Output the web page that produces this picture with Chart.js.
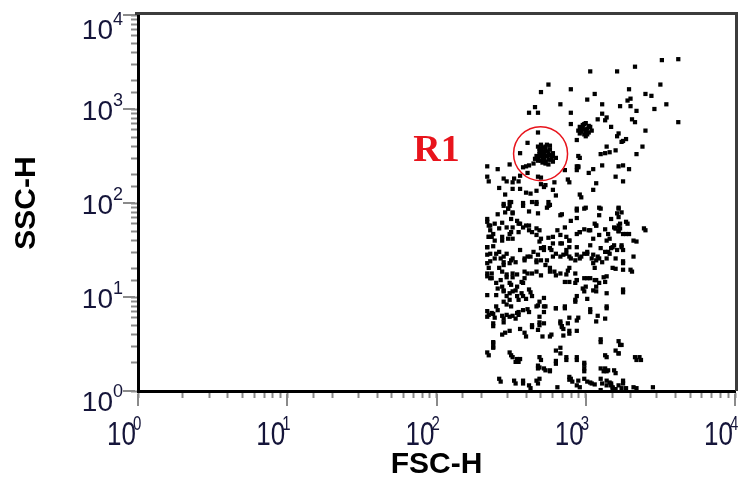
<!DOCTYPE html>
<html><head><meta charset="utf-8">
<script src="https://cdn.jsdelivr.net/npm/chart.js@4.4.1/dist/chart.umd.min.js"></script>
<style>html,body{margin:0;padding:0;background:#fff;}canvas{display:block;}</style>
</head><body>
<canvas id="c" width="741" height="486"></canvas>
<script>
// ---- chart text / axes ----
const X_TITLE = 'FSC-H';
const Y_TITLE = 'SSC-H';
const DECADES = [1, 10, 100, 1000, 10000];
const EXPONENTS = ['0', '1', '2', '3', '4'];
const GATE_NAME = 'R1';
const GATE_FSC = [498];
const GATE_SSC = [335];

// ---- events, each [log10 FSC-H, log10 SSC-H] ----
const upperTail = [
 [3.51,3.52],[3.62,3.53],[3.33,3.45],[3.03,3.40],[3.21,3.40],[2.75,3.26],[3.50,3.26],[2.70,3.18],[2.90,3.21],[3.06,3.16],
 [3.29,3.21],[3.01,3.10],[3.40,3.16],[3.44,3.14],[3.28,3.09],[3.30,3.11],[3.54,3.05],[2.83,3.05],[3.11,3.05],[3.23,3.03],
 [3.30,3.03],[2.66,3.02],[2.62,2.96],[2.68,2.96],[2.90,2.96],[3.34,2.98],[3.46,3.00],[3.62,2.86],[3.11,2.95],[3.14,2.91],
 [3.13,2.88],[3.08,2.89],[2.90,2.84],[3.31,2.89],[3.33,2.86],[3.17,2.81],[3.40,2.77],[3.22,2.74],[3.21,2.71],[3.27,2.68],
 [3.25,2.66],[3.24,2.65],[3.38,2.60],[3.14,2.60],[3.20,2.56],[3.16,2.54],[3.13,2.53],[3.10,2.52],[3.34,2.52]
];
const diagBlob = [
 [2.96,2.81],[2.98,2.83],[3.00,2.85],[3.03,2.81],[2.99,2.78],[2.97,2.76],[3.02,2.75],[2.99,2.73],[2.95,2.77],[3.04,2.77],
 [3.00,2.71],[2.94,2.67],[2.95,2.50],[2.94,2.39],[2.95,2.38],[2.96,2.48],
 [2.97,2.79],[3.01,2.79],[2.98,2.80],[3.00,2.76],[2.96,2.74],[3.02,2.82],[2.99,2.84],[3.01,2.73]
];
const r1Events = [
 [2.68,2.60],[2.70,2.62],[2.74,2.62],[2.76,2.61],[2.69,2.55],[2.72,2.55],[2.76,2.57],[2.78,2.53],[2.67,2.50],[2.70,2.50],
 [2.74,2.50],[2.77,2.48],[2.80,2.48],[2.68,2.45],[2.71,2.43],[2.75,2.41],[2.78,2.44],[2.65,2.42],[2.62,2.40],[2.60,2.39],
 [2.58,2.38],[2.71,2.59],[2.75,2.53],[2.71,2.47],[2.68,2.75],[2.61,2.64],[2.56,2.53],[2.72,2.52],[2.73,2.57],[2.69,2.58],
 [2.75,2.46],[2.70,2.45],[2.66,2.47],[2.78,2.50],[2.73,2.44],
 [2.69,2.52],[2.71,2.54],[2.73,2.60],[2.72,2.48],[2.74,2.55],[2.76,2.51],[2.68,2.48],[2.70,2.57],[2.77,2.46],[2.73,2.42]
];
const mainCloudUpper = [
 [2.34,2.39],[2.41,2.36],[2.49,2.41],[2.34,2.28],[2.35,2.23],[2.45,2.26],[2.47,2.23],[2.52,2.26],[2.51,2.22],[2.55,2.23],
 [2.56,2.29],[2.61,2.32],[2.68,2.28],[2.70,2.27],[2.70,2.20],[2.73,2.19],[2.79,2.22],[2.86,2.35],[2.88,2.25],[2.89,2.22],
 [2.94,2.35],[2.95,2.39],[3.02,2.32],[3.05,2.36],[3.07,2.21],[3.11,2.40],[3.20,2.28],[3.22,2.39],[3.25,2.40],[3.29,2.36],
 [3.25,2.23],[2.42,2.16],[2.46,2.09],[2.51,2.15],[2.56,2.15],[2.60,2.11],[2.63,2.10],[2.67,2.13],[2.72,2.17],[2.78,2.14],
 [2.80,2.08],[2.96,2.09],[2.97,2.06],[3.05,2.14],[3.00,1.95],[2.94,1.94],[3.09,1.95],[3.22,1.95],
 [2.45,1.99],[2.48,1.94],[2.50,2.01],[2.51,1.90],[2.46,1.90],[2.41,1.88],[2.58,2.00],[2.64,2.01],[2.67,2.01],[2.75,2.01],
 [2.76,1.98],[2.62,1.91],[2.68,1.89],[2.74,1.95],[2.84,1.88],[2.49,1.97]
];
const mainCloudMiddle = [
 [2.34,1.83],[2.35,1.76],[2.36,1.71],[2.39,1.78],[2.44,1.79],[2.42,1.73],[2.47,1.74],[2.50,1.83],[2.54,1.81],[2.56,1.78],
 [2.58,1.74],[2.60,1.76],[2.62,1.71],[2.67,1.73],[2.69,1.71],[2.50,1.69],[2.51,1.62],[2.44,1.64],[2.39,1.60],[2.35,1.64],
 [2.37,1.64],[2.55,1.69],[2.70,1.62],[2.75,1.63],[2.81,1.71],[2.78,1.64],[2.83,1.66],[2.87,1.64],[2.89,1.60],[2.86,1.74],
 [2.90,1.81],[2.94,1.84],[2.96,1.69],[2.99,1.72],[3.03,1.71],[3.06,1.78],[3.07,1.76],[3.05,1.62],[3.09,1.66],[3.13,1.72],
 [3.15,1.67],[3.14,1.60],[3.16,1.62],[3.20,1.73],[3.23,1.73],[3.22,1.76],[3.28,1.78],[3.29,1.67],[3.32,1.60],[3.34,1.59],
 [3.39,1.73],[3.09,1.87],[3.22,1.85],[3.27,1.80],[3.24,1.90],[3.19,1.74],[3.22,1.70],
 [2.34,1.53],[2.38,1.54],[2.42,1.48],[2.45,1.43],[2.47,1.46],[2.50,1.39],[2.51,1.41],[2.56,1.50],[2.59,1.41],[2.61,1.43],
 [2.65,1.48],[2.68,1.45],[2.70,1.52],[2.72,1.53],[2.76,1.52],[2.74,1.39],[2.67,1.39],[2.80,1.46],[2.85,1.45],[2.87,1.50],
 [2.89,1.53],[2.90,1.41],[2.94,1.45],[2.94,1.53],[2.97,1.43],[2.99,1.46],[3.01,1.48],[3.05,1.45],[3.07,1.39],[3.09,1.41],
 [3.10,1.52],[3.13,1.48],[3.15,1.48],[3.17,1.52],[3.19,1.55],[3.24,1.55],[3.25,1.50],[3.32,1.43],[2.36,1.38],[2.34,1.45],
 [2.39,1.41],[2.42,1.31],[2.35,1.31],[2.45,1.34],[3.03,1.55],[2.84,1.57],[2.78,1.57]
];
const mainCloudLower = [
 [2.34,1.22],[2.37,1.25],[2.44,1.27],[2.47,1.24],[2.51,1.25],[2.54,1.24],[2.57,1.16],[2.59,1.20],[2.61,1.25],[2.67,1.27],
 [2.76,1.31],[2.79,1.27],[2.80,1.23],[2.87,1.24],[2.89,1.31],[2.93,1.25],[2.94,1.18],[2.93,1.15],[2.99,1.20],[3.00,1.11],
 [3.03,1.20],[3.06,1.18],[3.07,1.11],[3.09,1.15],[3.13,1.16],[3.14,1.22],[3.18,1.31],[3.25,1.29],[3.30,1.29],[3.20,1.41],
 [3.25,1.38],[3.06,1.31],[2.89,1.16],[2.86,1.16],[2.36,1.20],[2.40,1.15],[2.44,1.11],[2.49,1.15],[2.54,1.11],[2.58,1.15],
 [2.34,1.02],[2.40,1.02],[2.45,1.06],[2.47,1.01],[2.49,1.04],[2.51,1.06],[2.54,1.01],[2.58,1.01],[2.62,1.08],[2.64,1.01],
 [2.72,0.99],[2.69,0.95],[2.67,0.90],[2.72,0.90],[2.80,0.88],[2.86,0.90],[2.94,1.01],[2.93,0.95],[3.14,1.04],[3.07,1.06],
 [2.99,1.06],[3.25,1.08],[2.40,0.90],[2.47,0.92],[2.50,0.90],[2.54,0.83],[2.58,0.86],[2.61,0.87],[2.34,0.85],[2.35,0.81],
 [2.37,0.83],[2.39,0.78],[2.44,0.80],[2.47,0.81],[2.51,0.80],[2.55,0.81],[3.03,0.87],[3.14,0.90],[3.08,0.80]
];
const mainCloudExtra = [
 [2.34,1.80],[2.36,1.76],[2.45,1.97],[2.48,1.94],[2.51,1.89],[2.49,2.01],[2.58,1.97],[2.67,1.99],[2.75,1.97],[2.83,1.87],
 [2.94,1.92],[2.99,1.94],[3.10,1.94],[3.22,1.94],[3.21,1.89],[3.17,1.83],[3.23,1.78],[3.20,1.73],[3.22,1.70],[3.25,1.67],
 [3.27,1.67],[3.40,1.71],[3.07,1.76],[3.02,1.71],[2.96,1.69],[2.94,1.67],[2.89,1.60],[2.83,1.57],[2.77,1.50],[2.72,1.50],
 [2.69,1.59],[2.67,1.66],[2.64,1.69],[2.62,1.76],[2.55,1.78],[2.51,1.74],[2.49,1.67],[2.48,1.62],[2.44,1.60],[2.38,1.67],
 [2.35,1.64],[2.34,1.53],[2.36,1.46],[2.40,1.46],[2.43,1.41],[2.45,1.37],[2.49,1.36],[2.53,1.37],[2.59,1.39],[2.63,1.43],
 [2.67,1.37],[2.70,1.39],[2.73,1.34],[2.78,1.43],[2.83,1.43],[2.87,1.46],[2.89,1.43],[2.93,1.39],[2.96,1.41],[3.01,1.46],
 [3.04,1.41],[3.05,1.36],[3.08,1.43],[3.11,1.37],[3.14,1.41],[3.16,1.46],[3.18,1.53],[3.21,1.50],[3.24,1.53],[3.25,1.36],
 [3.31,1.27],[3.20,1.30],[3.12,1.21],[3.07,1.18],[3.01,1.20],[2.98,1.09],[2.94,1.18],[2.88,1.28],[2.83,1.25],[2.76,1.27],
 [2.70,1.23],[2.64,1.25],[2.59,1.27],[2.51,1.21],[2.47,1.21],[2.43,1.18],[2.37,1.20],[2.34,1.25],[2.34,1.36],[2.41,1.09],
 [2.45,1.07],[2.50,1.13],[2.53,1.07],[2.57,1.04],[2.63,1.05],[2.60,0.98],[2.55,0.97],[2.49,0.97],[2.45,0.95],[2.41,0.86],
 [2.38,0.82],[2.34,0.79],[2.38,0.72],[2.45,0.77],[2.49,0.79],[2.53,0.77],[2.55,0.84],[2.62,0.84],[2.68,0.91],[2.73,0.90],
 [2.72,0.84],[2.69,0.79],[2.64,0.68],[2.69,0.70],[2.68,0.65],[2.76,0.58],[2.83,0.72],[2.84,0.68],[2.88,0.72],[2.94,0.75],
 [2.89,0.61],[2.85,0.59],[2.80,0.88],[2.86,0.88],[2.93,0.97],[3.03,0.84],[3.07,0.74],[3.14,0.88],[3.13,0.77],[3.25,1.05],
 [3.05,1.07],[3.01,0.98]
];
const debrisEvents = [
 [2.38,0.69],[2.45,0.73],[2.46,0.62],[2.49,0.64],[2.56,0.66],[2.59,0.62],[2.64,0.70],[2.69,0.73],[2.72,0.72],[2.77,0.60],
 [2.83,0.74],[2.84,0.69],[2.89,0.78],[2.89,0.64],[2.94,0.64],[2.85,0.66],[2.95,0.78],[2.44,0.60],[2.60,0.58],[2.71,0.58],
 [2.38,0.52],[2.38,0.46],[2.34,0.41],[2.49,0.41],[2.51,0.36],[2.54,0.34],[2.56,0.34],[2.69,0.36],[2.80,0.43],[2.83,0.46],
 [2.87,0.36],[2.94,0.36],[3.10,0.55],[3.22,0.53],[3.24,0.49],[3.20,0.43],[3.22,0.40],[3.13,0.38],[3.33,0.36],[3.36,0.36],
 [2.68,0.27],[2.69,0.25],[2.72,0.24],[2.76,0.22],[2.80,0.32],[2.99,0.30],[2.99,0.24],[3.10,0.24],[3.13,0.24],[3.15,0.22],
 [3.19,0.22],
 [2.42,0.13],[2.52,0.11],[2.58,0.11],[2.67,0.11],[2.69,0.13],[2.62,0.06],[2.81,0.04],[2.89,0.15],[2.90,0.13],[2.95,0.11],
 [2.96,0.04],[2.99,0.13],[3.03,0.09],[3.06,0.07],[3.10,0.13],[3.14,0.11],[3.16,0.09],[3.17,0.08],[3.18,0.04],[3.22,0.06],
 [3.25,0.11],[3.24,0.03],[3.27,0.03],[3.32,0.04],[3.34,0.03],[3.45,0.04],[3.10,0.01],[3.20,0.02],
 [3.10,0.52],[3.23,0.49],[3.22,0.40],[3.14,0.36],[3.34,0.33],[3.37,0.33],[2.38,0.51],[2.38,0.47],[2.35,0.38],[2.50,0.38],
 [2.53,0.31],[2.55,0.31],[2.70,0.33],[2.68,0.24],[2.73,0.22],[2.76,0.21],[2.83,0.40],[2.80,0.29],[2.87,0.33],[2.94,0.33],
 [2.99,0.28],[2.99,0.21],[3.12,0.21],[3.14,0.21],[3.20,0.19],[2.43,0.10],[2.53,0.08],[2.58,0.08],[2.63,0.03],[2.68,0.08],
 [2.89,0.12],[2.91,0.10],[2.94,0.06],[3.01,0.10],[3.04,0.08],[3.11,0.08],[3.14,0.06],[3.17,0.06],[3.18,0.03],[3.25,0.08]
];

const allEvents = [].concat(upperTail, diagBlob, r1Events, mainCloudUpper, mainCloudMiddle, mainCloudLower, mainCloudExtra, debrisEvents)
  .map(([lf, ls]) => ({ x: Math.pow(10, lf), y: Math.pow(10, ls) }));

const NARROW = '"Liberation Sans Narrow", "Arial Narrow", "Liberation Sans", Arial, sans-serif';
const LABEL_COLOR = '#15153a';

function drawPow(ctx, rightX, cy, exp, size, supSize, sy, supDx, supDy) {
  ctx.save();
  ctx.translate(rightX, cy);
  ctx.scale(1, sy);
  ctx.fillStyle = LABEL_COLOR;
  ctx.textBaseline = 'middle';
  ctx.font = size + 'px ' + NARROW;
  ctx.textAlign = 'right';
  ctx.fillText('10', 0, 0);
  ctx.font = supSize + 'px ' + NARROW;
  ctx.textAlign = 'left';
  ctx.fillText(exp, supDx, supDy / sy);
  ctx.restore();
}

const decorPlugin = {
  id: 'decor',
  afterDraw(chart) {
    const { ctx, chartArea: a } = chart;
    const xs = chart.scales.x, ys = chart.scales.y;
    ctx.save();
    // top & right frame lines
    ctx.strokeStyle = '#3c3c3c';
    ctx.lineWidth = 3;
    ctx.beginPath();
    ctx.moveTo(a.left - 3, a.top - 1.5);
    ctx.lineTo(a.right + 3, a.top - 1.5);
    ctx.moveTo(a.right + 1.5, a.top - 3);
    ctx.lineTo(a.right + 1.5, a.bottom);
    ctx.stroke();
    // longer major ticks at decades
    ctx.strokeStyle = '#8a8a8a';
    ctx.lineWidth = 2;
    ctx.beginPath();
    DECADES.forEach(v => {
      const px = Math.round(xs.getPixelForValue(v));
      ctx.moveTo(px, a.bottom + 3);
      ctx.lineTo(px, a.bottom + 15);
      const py = Math.round(ys.getPixelForValue(v));
      ctx.moveTo(a.left - 3, py);
      ctx.lineTo(a.left - 15, py);
    });
    ctx.stroke();
    // decade labels 10^n
    DECADES.forEach((v, i) => {
      const exp = EXPONENTS[i];
      const py = ys.getPixelForValue(v);
      let cy = py + 3;
      if (i === DECADES.length - 1) cy = py + 16;
      if (i === 0) cy = py + 12;
      drawPow(ctx, a.left - 25, cy, exp, 28, 18, 1.0, 0, -10.5);
      const px = xs.getPixelForValue(v);
      drawPow(ctx, px - 2, a.bottom + 45, exp, 26, 15, 1.3, -3, -11.5);
    });
    // gate label
    const gx = xs.getPixelForValue(GATE_FSC[0]);
    const gy = ys.getPixelForValue(GATE_SSC[0]);
    ctx.fillStyle = '#e8141c';
    ctx.font = 'bold 38px "Liberation Serif", "Times New Roman", serif';
    ctx.textAlign = 'center';
    ctx.textBaseline = 'alphabetic';
    ctx.fillText(GATE_NAME, gx - 104, gy + 7);
    ctx.restore();
  }
};

const titleFont = { family: '"Liberation Sans", Arial, sans-serif', size: 30, weight: 'bold' };

new Chart(document.getElementById('c'), {
  type: 'scatter',
  data: {
    datasets: [
      {
        label: GATE_NAME,
        data: [{ x: GATE_FSC[0], y: GATE_SSC[0] }],
        pointStyle: 'circle',
        pointRadius: 27,
        backgroundColor: 'rgba(0,0,0,0)',
        borderColor: '#e8141c',
        borderWidth: 1.5,
        order: 0,
        clip: false
      },
      {
        label: 'events',
        data: allEvents,
        pointStyle: 'rect',
        pointRadius: 3,
        backgroundColor: '#000',
        borderWidth: 0,
        order: 1,
        clip: false
      }
    ]
  },
  options: {
    responsive: false,
    animation: false,
    devicePixelRatio: 1,
    layout: { autoPadding: false, padding: { top: 15, right: 6, left: 0, bottom: 0 } },
    plugins: { legend: { display: false }, tooltip: { enabled: false }, title: { display: false } },
    scales: {
      x: {
        type: 'logarithmic', position: 'bottom', min: 1, max: 10000,
        border: { display: true, color: '#000', width: 3 },
        grid: { drawOnChartArea: false, drawTicks: true, tickLength: 7, tickColor: '#8a8a8a', tickWidth: 2 },
        ticks: { display: false, autoSkip: false },
        title: { display: true, text: X_TITLE, color: '#000', font: titleFont, padding: { top: 0, bottom: 3 } },
        afterFit(s) { s.height = 95; }
      },
      y: {
        type: 'logarithmic', position: 'left', min: 1, max: 10000,
        border: { display: true, color: '#000', width: 3 },
        grid: { drawOnChartArea: false, drawTicks: true, tickLength: 7, tickColor: '#8a8a8a', tickWidth: 2 },
        ticks: { display: false, autoSkip: false },
        title: { display: true, text: Y_TITLE, color: '#000', font: titleFont, padding: { top: 9, bottom: 0 } },
        afterFit(s) { s.width = 138; }
      }
    }
  },
  plugins: [decorPlugin]
});
</script>
</body></html>
